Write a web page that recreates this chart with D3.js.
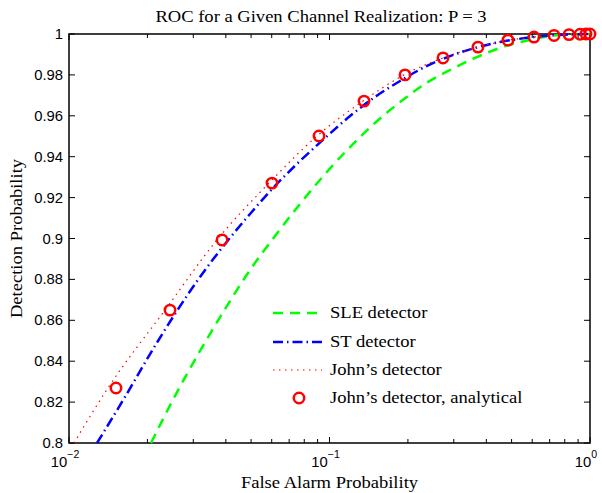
<!DOCTYPE html>
<html>
<head>
<meta charset="utf-8">
<script src="https://cdnjs.cloudflare.com/ajax/libs/d3/7.8.5/d3.min.js"></script>
<style>
  body { margin: 0; background: #fff; }
  svg { display: block; }
</style>
</head>
<body>
<div class="container"></div>
<script>
/* chart values */
const title = "ROC for a Given Channel Realization: P = 3";
const xLabel = "False Alarm Probability";
const yLabel = "Detection Probability";

const xMajorTicks = [0.01, 0.1, 1];
const xTickExponents = ["\u22122", "\u22121", "0"];
const yTicks = [0.8, 0.82, 0.84, 0.86, 0.88, 0.9, 0.92, 0.94, 0.96, 0.98, 1];
const yTickLabels = ["0.8", "0.82", "0.84", "0.86", "0.88", "0.9", "0.92", "0.94", "0.96", "0.98", "1"];

const legendNames = ["SLE detector", "ST detector", "John\u2019s detector", "John\u2019s detector, analytical"];

/* SLE detector */
const sleFa = [0.02065, 0.02552, 0.03184, 0.03971, 0.04953, 0.06178, 0.07705, 0.0961, 0.1199, 0.1495, 0.1865, 0.2326, 0.2902, 0.3619, 0.4514, 0.563, 0.7022, 0.8759, 1.0];
const slePd = [0.8, 0.823, 0.845, 0.8655, 0.8846, 0.9012, 0.9169, 0.9315, 0.9447, 0.9565, 0.9667, 0.9756, 0.9824, 0.9883, 0.9932, 0.9966, 0.999, 0.9998, 1.0];

/* ST detector */
const stFa = [0.01281, 0.0164, 0.02047, 0.02552, 0.03184, 0.03971, 0.04953, 0.06178, 0.07705, 0.0961, 0.1199, 0.1495, 0.1865, 0.2326, 0.2902, 0.3619, 0.4514, 0.563, 0.7022, 0.8759, 1.0];
const stPd = [0.8, 0.8225, 0.8435, 0.8631, 0.8812, 0.8973, 0.912, 0.9257, 0.9379, 0.9491, 0.9599, 0.9692, 0.977, 0.9839, 0.9892, 0.9932, 0.9961, 0.998, 0.9993, 0.9999, 1.0];

/* John's detector, simulated */
const johnFa = [0.01045, 0.01411, 0.02336, 0.03699, 0.05856, 0.08954, 0.1345, 0.1932, 0.2727, 0.3716, 0.4843, 0.6095, 0.7276, 0.84, 1.0];
const johnPd = [0.8, 0.8269, 0.865, 0.8993, 0.9271, 0.9501, 0.9672, 0.98, 0.9883, 0.9936, 0.9969, 0.9985, 0.9993, 0.9998, 1.0];

/* John's detector, analytical */
const anaFa = [0.01515, 0.02442, 0.03868, 0.06016, 0.09114, 0.1357, 0.1949, 0.2727, 0.3716, 0.4843, 0.6095, 0.7276, 0.8307, 0.9156, 0.9652, 1.0];
const anaPd = [0.8269, 0.865, 0.8993, 0.9271, 0.9501, 0.9672, 0.98, 0.9883, 0.9936, 0.997, 0.9985, 0.9993, 0.9997, 0.9999, 1.0, 1.0];

const w = 602;
const h = 493;
const margin = { top: 34, right: 12, bottom: 50, left: 69 };

const serif = "'Liberation Serif', 'Times New Roman', serif";
const sans = "'Liberation Sans', Arial, Helvetica, sans-serif";
const serifStretch = 1.16;  // text in the reference is a bit wider than plain Times
const sansStretch = 1.06;

const svg = d3.select(".container")
              .append("svg")
              .attr("width", w)
              .attr("height", h);

const xScale = d3.scaleLog()
                 .domain([0.01, 1])
                 .range([margin.left, w - margin.right]);

const yScale = d3.scaleLinear()
                 .domain([0.8, 1])
                 .range([h - margin.bottom, margin.top]);

const x0 = margin.left, x1 = w - margin.right;
const y0 = h - margin.bottom, y1 = margin.top;

/* helper for horizontally stretched text */
const stretchedText = (x, y, str, font, size, stretch, anchor) => {
    return svg.append("g")
              .attr("transform", "translate(" + x + "," + y + ") scale(" + stretch + ",1)")
              .append("text")
              .attr("font-family", font)
              .attr("font-size", size)
              .attr("text-anchor", anchor)
              .attr("fill", "#000")
              .text(str);
};

/* ticks: log minor ticks on x, both top and bottom; y ticks on both sides */
const xMinor = [];
[0.01, 0.1].forEach((d) => {
    for (let k = 2; k <= 9; k++) xMinor.push(d * k);
});

const tickG = svg.append("g").attr("stroke", "#000").attr("stroke-width", 1);

xMajorTicks.forEach((d) => {
    const x = xScale(d);
    tickG.append("line").attr("x1", x).attr("x2", x).attr("y1", y0).attr("y2", y0 - 6);
    tickG.append("line").attr("x1", x).attr("x2", x).attr("y1", y1).attr("y2", y1 + 6);
});
xMinor.forEach((d) => {
    const x = xScale(d);
    tickG.append("line").attr("x1", x).attr("x2", x).attr("y1", y0).attr("y2", y0 - 4);
    tickG.append("line").attr("x1", x).attr("x2", x).attr("y1", y1).attr("y2", y1 + 4);
});
yTicks.forEach((d) => {
    const y = yScale(d);
    tickG.append("line").attr("x1", x0).attr("x2", x0 + 6).attr("y1", y).attr("y2", y);
    tickG.append("line").attr("x1", x1).attr("x2", x1 - 6).attr("y1", y).attr("y2", y);
});

/* axis box */
svg.append("rect")
   .attr("x", x0)
   .attr("y", y1)
   .attr("width", x1 - x0)
   .attr("height", y0 - y1)
   .attr("fill", "none")
   .attr("stroke", "#000")
   .attr("stroke-width", 1.5);

/* y tick labels */
yTicks.forEach((d, i) => {
    stretchedText(x0 - 6, yScale(d) + 5, yTickLabels[i], sans, 14, sansStretch, "end");
});

/* x tick labels: 10 with superscript exponent */
xMajorTicks.forEach((d, i) => {
    const t = stretchedText(xScale(d) - 4, 467, "", sans, 14, sansStretch, "middle");
    t.append("tspan").text("10");
    t.append("tspan")
     .attr("dy", -9)
     .attr("font-size", 10)
     .text(xTickExponents[i]);
});

/* curves */
const line = d3.line()
               .x((d) => xScale(d[0]))
               .y((d) => yScale(d[1]))
               .curve(d3.curveMonotoneX);

const series = [
    { fa: sleFa, pd: slePd, color: "#00ff00", width: 2.5, dash: "10,7" },
    { fa: stFa, pd: stPd, color: "#0000ff", width: 2.5, dash: "10,4,1.5,4" },
    { fa: johnFa, pd: johnPd, color: "#ff0000", width: 1.2, dash: "1.5,4.5" }
];

series.forEach((s) => {
    svg.append("path")
       .datum(s.fa.map((f, i) => [f, s.pd[i]]))
       .attr("d", line)
       .attr("fill", "none")
       .attr("stroke", s.color)
       .attr("stroke-width", s.width)
       .attr("stroke-dasharray", s.dash);
});

svg.selectAll("circle.ana")
   .data(anaFa.map((f, i) => [f, anaPd[i]]))
   .enter()
   .append("circle")
   .attr("class", "ana")
   .attr("cx", (d) => xScale(d[0]))
   .attr("cy", (d) => yScale(d[1]))
   .attr("r", 5.2)
   .attr("fill", "none")
   .attr("stroke", "#ff0000")
   .attr("stroke-width", 2.5);

/* legend (no box) */
const legY = [313, 342, 370, 398];
series.forEach((s, i) => {
    svg.append("line")
       .attr("x1", 273).attr("x2", 322)
       .attr("y1", legY[i]).attr("y2", legY[i])
       .attr("stroke", s.color)
       .attr("stroke-width", s.width)
       .attr("stroke-dasharray", s.dash);
});
svg.append("circle")
   .attr("cx", 299)
   .attr("cy", legY[3])
   .attr("r", 5.2)
   .attr("fill", "none")
   .attr("stroke", "#ff0000")
   .attr("stroke-width", 2.5);
legendNames.forEach((name, i) => {
    stretchedText(330, legY[i] + 5, name, serif, 16, serifStretch, "start");
});

/* title and axis labels */
stretchedText(321, 22, title, serif, 16, serifStretch, "middle");
stretchedText((x0 + x1) / 2, 488, xLabel, serif, 16, serifStretch, "middle");

svg.append("g")
   .attr("transform", "translate(22," + ((y0 + y1) / 2) + ") rotate(-90) scale(" + serifStretch + ",1)")
   .append("text")
   .attr("font-family", serif)
   .attr("font-size", 16)
   .attr("text-anchor", "middle")
   .text(yLabel);
</script>
</body>
</html>
